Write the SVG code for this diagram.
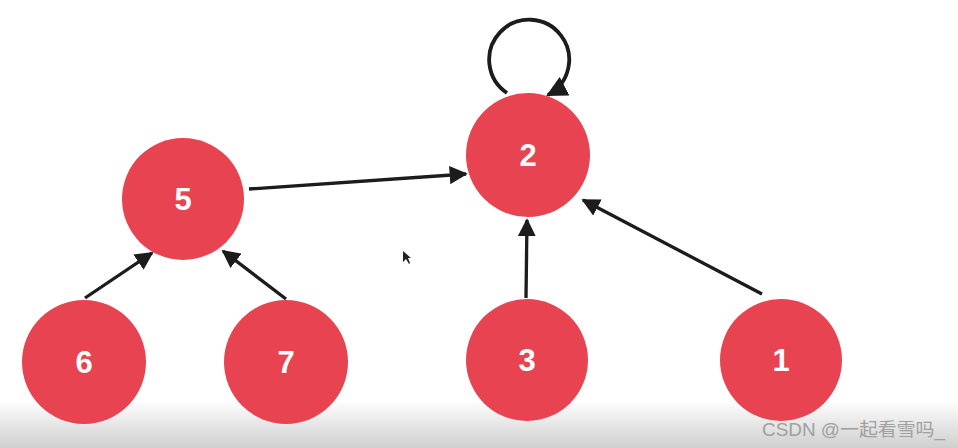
<svg xmlns="http://www.w3.org/2000/svg" width="958" height="448" viewBox="0 0 958 448">
<defs>
<linearGradient id="bg" x1="0" y1="0" x2="0" y2="1">
<stop offset="0" stop-color="#ffffff"/>
<stop offset="1" stop-color="#cfcfcf"/>
</linearGradient>
<marker id="ah" viewBox="0 0 10 10" refX="9" refY="5" markerWidth="5.5" markerHeight="5.5" markerUnits="strokeWidth" orient="auto">
<path d="M0,0 L10,5 L0,10 z" fill="#1a1a1a"/>
</marker>
<filter id="soft" x="-5%" y="-5%" width="110%" height="110%"><feGaussianBlur stdDeviation="0.6"/></filter>
</defs>
<style>
.node circle{fill:#E84350;}
.node text{fill:#ffffff;font-family:"Liberation Sans",Arial,sans-serif;font-weight:bold;font-size:31px;text-anchor:middle;dominant-baseline:central;}
.edge{stroke:#1a1a1a;stroke-width:3.3;fill:none;marker-end:url(#ah);}
.wm{font-family:"Liberation Sans","Noto Sans CJK SC",sans-serif;font-size:18px;fill:#a0a0a0;}
</style>
<rect x="0" y="0" width="958" height="448" fill="#ffffff"/>
<rect x="0" y="400" width="958" height="48" fill="url(#bg)"/>
<g id="connectors" filter="url(#soft)">
<path class="edge" d="M249,189 L466,174"/>
<path class="edge" d="M85,298 L152,253"/>
<path class="edge" d="M286,299 L223,251"/>
<path class="edge" d="M526,298 L527,220"/>
<path class="edge" d="M762,294 L583,200"/>
<path class="edge" style="stroke-width:3.8" d="M507,93 A40,40 0 1 1 548,95"/>
</g>
<g id="node-5" class="node"><circle cx="183" cy="199" r="61"/><text x="183" y="199">5</text></g>
<g id="node-2" class="node"><circle cx="528" cy="155" r="62"/><text x="528" y="155">2</text></g>
<g id="node-6" class="node"><circle cx="84" cy="362" r="62"/><text x="84" y="362">6</text></g>
<g id="node-7" class="node"><circle cx="286" cy="362" r="62"/><text x="286" y="362">7</text></g>
<g id="node-3" class="node"><circle cx="527" cy="360" r="61"/><text x="527" y="360">3</text></g>
<g id="node-1" class="node"><circle cx="781" cy="360" r="61"/><text x="781" y="360">1</text></g>
<path d="M403,251 L403,262 L406,259 L409,264 L410,263 L408,258 L411,258 z" fill="#222" filter="url(#soft)"/>
<text class="wm" x="762" y="436" textLength="183" lengthAdjust="spacingAndGlyphs">CSDN @一起看雪吗_</text>
</svg>
